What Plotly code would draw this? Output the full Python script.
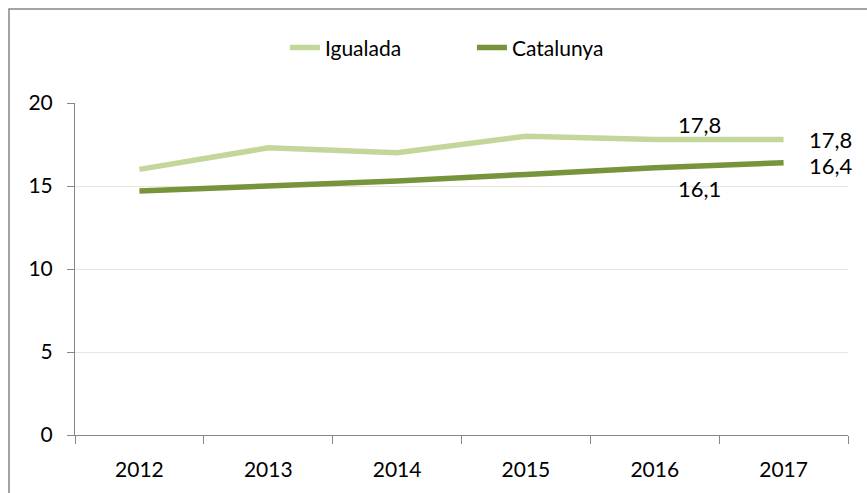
import plotly.graph_objects as go

years = ["2012", "2013", "2014", "2015", "2016", "2017"]
igualada = [16.0, 17.3, 17.0, 18.0, 17.8, 17.8]
catalunya = [14.7, 15.0, 15.3, 15.7, 16.1, 16.4]
y_ticks = [0, 5, 10, 15, 20]

def fmt(v):
    return f"{v:.1f}".replace(".", ",")

FONT = "Lato, 'Open Sans', sans-serif"
xi = list(range(len(years)))

fig = go.Figure()
fig.add_trace(go.Scatter(
    x=xi, y=igualada, name="Igualada", mode="lines",
    line=dict(color="#C4D79B", width=5.5),
))
fig.add_trace(go.Scatter(
    x=xi, y=catalunya, name="Catalunya", mode="lines",
    line=dict(color="#77933C", width=5.5),
))

ann = []
lab_font = dict(size=22, color="#000000", family=FONT)
ann.append(dict(x=xi[4], y=igualada[4], text=fmt(igualada[4]), showarrow=False,
                xshift=45, yshift=15, font=lab_font, xanchor="center", yanchor="middle"))
ann.append(dict(x=xi[4], y=catalunya[4], text=fmt(catalunya[4]), showarrow=False,
                xshift=45, yshift=-21, font=lab_font, xanchor="center", yanchor="middle"))
ann.append(dict(x=xi[5], y=igualada[5], text=fmt(igualada[5]), showarrow=False,
                xshift=23, yshift=0, font=lab_font, xanchor="left", yanchor="middle"))
ann.append(dict(x=xi[5], y=catalunya[5], text=fmt(catalunya[5]), showarrow=False,
                xshift=23, yshift=-3, font=lab_font, xanchor="left", yanchor="middle"))

fig.update_layout(
    width=867, height=493,
    margin=dict(l=75, r=19, t=103, b=58, autoexpand=False),
    paper_bgcolor="white", plot_bgcolor="white",
    font=dict(family=FONT, size=21, color="#000000"),
    showlegend=True,
    legend=dict(orientation="h", x=0.2716, xanchor="left", y=0.903, yanchor="middle",
                yref="container", font=dict(size=21), traceorder="normal",
                bgcolor="rgba(0,0,0,0)", entrywidth=142),
    xaxis=dict(
        range=[-0.5, 5.5], tickmode="array", tickvals=xi, ticktext=years,
        showgrid=False, showline=True, linecolor="#868686", linewidth=1,
        ticks="outside", ticklen=16, tickcolor="rgba(0,0,0,0)",
        minor=dict(tick0=-0.5, dtick=1, ticks="outside", ticklen=8,
                   tickcolor="#868686", showgrid=False),
        tickfont=dict(size=21), zeroline=False, automargin=False, fixedrange=True,
    ),
    yaxis=dict(
        range=[0, 20], tickvals=y_ticks, showgrid=True, gridcolor="#E9E5D9",
        showline=True, linecolor="#868686", linewidth=1,
        ticks="outside", ticklen=7, tickcolor="#868686",
        tickfont=dict(size=21), zeroline=False, automargin=False, ticklabelstandoff=10,
        fixedrange=True,
    ),
    annotations=ann,
    shapes=[dict(type="rect", xref="paper", yref="paper", x0=-0.0854, x1=1.2, y0=-0.5, y1=1.283,
                 line=dict(color="#868686", width=1.5), layer="below")],
)

fig.write_html("out.html", config={"displayModeBar": False},
               post_script="document.body.style.margin='0';")
